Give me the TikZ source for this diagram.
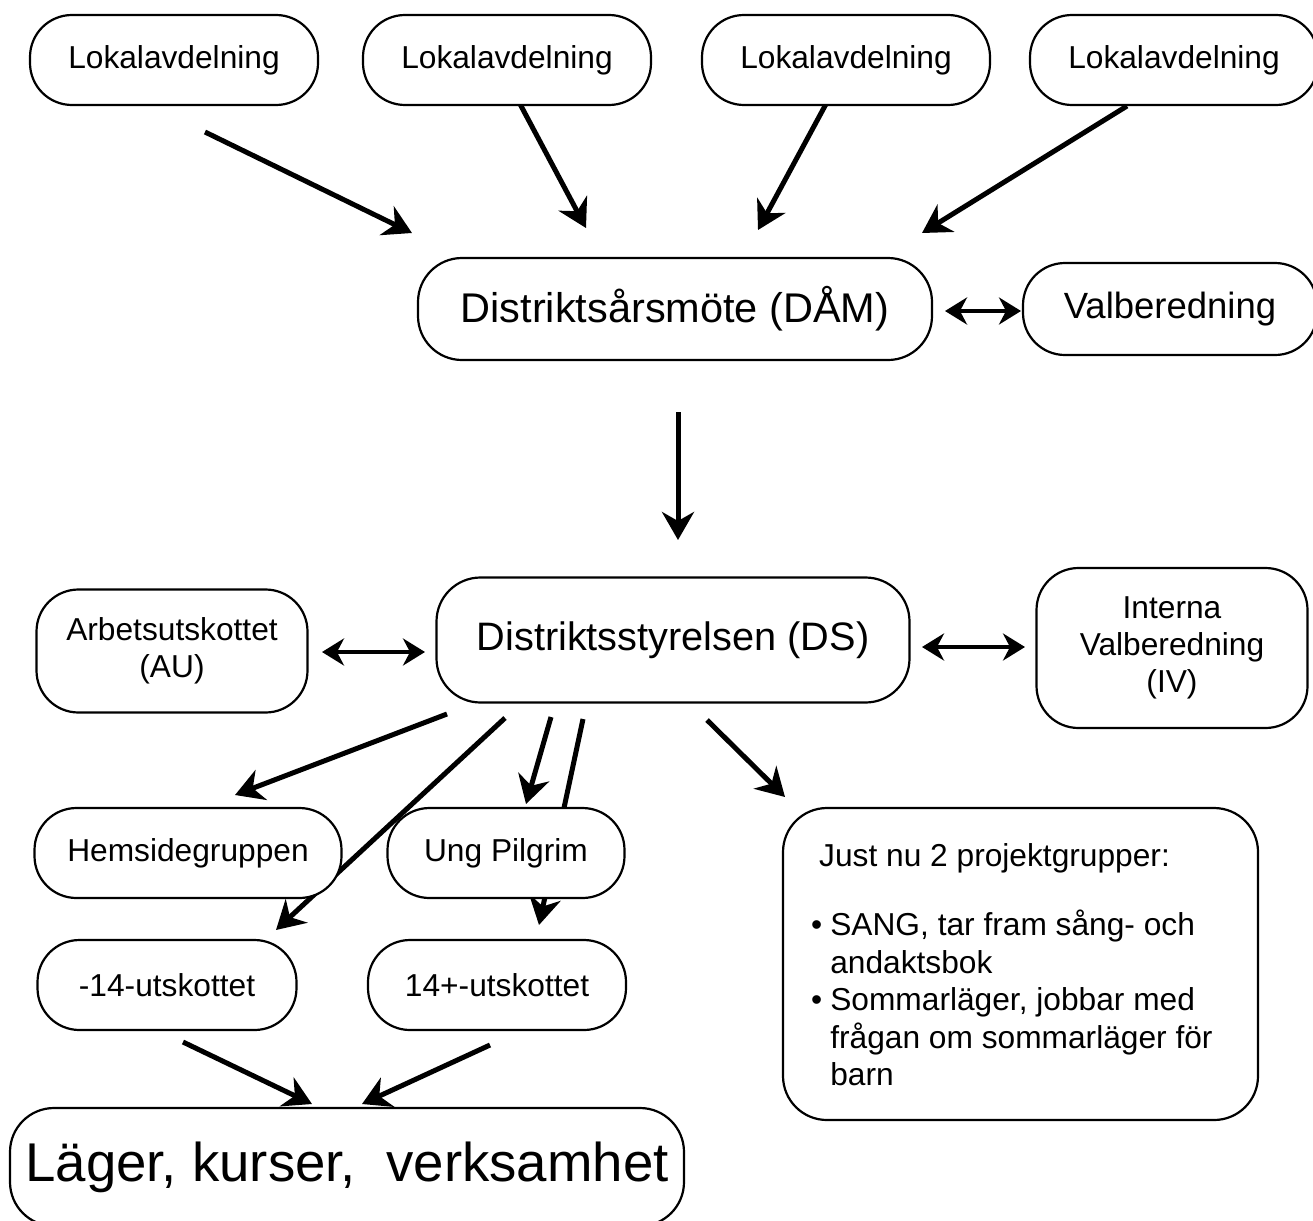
\documentclass[tikz,border=0pt]{standalone}
\usepackage{fontspec}
\setmainfont{Liberation Sans}
\usetikzlibrary{arrows.meta}
\newcommand\fsz[2]{\fontsize{#1}{#2}\selectfont}
\frenchspacing
\begin{document}
\begin{tikzpicture}[x=1pt,y=-1pt,
  box/.style={draw, line width=2.2pt, rounded corners=42pt, fill=white, inner sep=0pt, align=center},
  arr/.style={line width=5pt, -{Stealth[length=28pt,width=32pt,inset=9pt]}},
  darr/.style={line width=4pt, {Stealth[length=22pt,width=27pt,inset=7pt]}-{Stealth[length=22pt,width=27pt,inset=7pt]}},
  small/.style={font=\fsz{31.7}{37}}]
\clip (0,0) rectangle (1313,1220);
\fill[white] (0,0) rectangle (1313,1220);

% arrow end points
\coordinate (a1s) at (205,132);  \coordinate (a1e) at (412,233);
\coordinate (a2s) at (520,104);  \coordinate (a2e) at (586,228);
\coordinate (a3s) at (826,104);  \coordinate (a3e) at (758,230);
\coordinate (a4s) at (1127,106); \coordinate (a4e) at (922,233);
\coordinate (v1) at (945,311);   \coordinate (v2) at (1021,311);
\coordinate (ms) at (678,412);   \coordinate (me) at (678,540);
\coordinate (au1) at (322,652);  \coordinate (au2) at (425,652);
\coordinate (iv1) at (922,647);  \coordinate (iv2) at (1025,647);
\coordinate (d1s) at (447,714);  \coordinate (d1e) at (235,795);
\coordinate (d2s) at (505,718);  \coordinate (d2e) at (276,930);
\coordinate (d3s) at (551,717);  \coordinate (d3e) at (526,804);
\coordinate (d4s) at (583,719);  \coordinate (d4e) at (539,925);
\coordinate (d5s) at (707,720);  \coordinate (d5e) at (785,797);
\coordinate (b1s) at (183,1042); \coordinate (b1e) at (312,1104);
\coordinate (b2s) at (490,1045); \coordinate (b2e) at (362,1104);

% connectors (drawn first so boxes cover the crossing ones)
\draw[arr] (a1s) -- (a1e);
\draw[arr] (a2s) -- (a2e);
\draw[arr] (a3s) -- (a3e);
\draw[arr] (a4s) -- (a4e);
\draw[darr] (v1) -- (v2);
\draw[arr] (ms) -- (me);
\draw[darr] (au1) -- (au2);
\draw[darr] (iv1) -- (iv2);
\draw[arr] (d1s) -- (d1e);
\draw[arr] (d2s) -- (d2e);
\draw[arr] (d3s) -- (d3e);
\draw[arr] (d4s) -- (d4e);
\draw[arr] (d5s) -- (d5e);
\draw[arr] (b1s) -- (b1e);
\draw[arr] (b2s) -- (b2e);

% boxes
\node[box, small, minimum width=288pt, minimum height=90pt] (L1) at (174,60) {Lokalavdelning};
\node[box, small, minimum width=288pt, minimum height=90pt] (L2) at (507,60) {Lokalavdelning};
\node[box, small, minimum width=288pt, minimum height=90pt] (L3) at (846,60) {Lokalavdelning};
\node[box, small, minimum width=288pt, minimum height=90pt] (L4) at (1174,60) {Lokalavdelning};

\node[box, font=\fsz{41.5}{48}, minimum width=514pt, minimum height=102pt, rounded corners=44pt] (dam) at (675,309) {Distriktsårsmöte (DÅM)};
\node[box, font=\fsz{36.5}{42}, minimum width=294pt, minimum height=92pt] (valb) at (1170,309) {Valberedning};

\node[box, font=\fsz{39.7}{46}, minimum width=473pt, minimum height=125pt, rounded corners=44pt] (ds) at (673,640) {Distriktsstyrelsen (DS)};
\node[box, small, minimum width=271pt, minimum height=123pt] (au) at (172,651) {Arbetsutskottet\\(AU)};
\node[box, small, minimum width=271pt, minimum height=160pt] (iv) at (1172,648) {Interna\\Valberedning\\(IV)};

\node[box, small, minimum width=307pt, minimum height=90pt] (hem) at (188,853) {Hemsidegruppen};
\node[box, small, minimum width=237pt, minimum height=90pt] (ung) at (506,853) {Ung Pilgrim};
\node[box, small, minimum width=259pt, minimum height=90pt] (u14) at (167,985) {-14-utskottet};
\node[box, small, minimum width=258pt, minimum height=90pt] (o14) at (497,985) {14+-utskottet};

\node[box, minimum width=475pt, minimum height=312pt, rounded corners=44pt] (proj) at (1020.5,964) {};
\node[anchor=base west, inner sep=0pt, font=\fsz{31.7}{37.5}] (projtxt) at (811,866)
  {\begin{tabular}[t]{@{}l@{\hspace{8pt}}l@{}}
   \multicolumn{2}{@{\hspace{8pt}}l@{}}{Just nu 2 projektgrupper:}\\[32pt]
   •&SANG, tar fram sång- och\\
    &andaktsbok\\
   •&Sommarläger, jobbar med\\
    &frågan om sommarläger för\\
    &barn
   \end{tabular}};

\node[box, font=\fsz{54.6}{60}, minimum width=674pt, minimum height=118pt, rounded corners=44pt] (lager) at (347,1167) {Läger, kurser, \ verksamhet};
\end{tikzpicture}
\end{document}
